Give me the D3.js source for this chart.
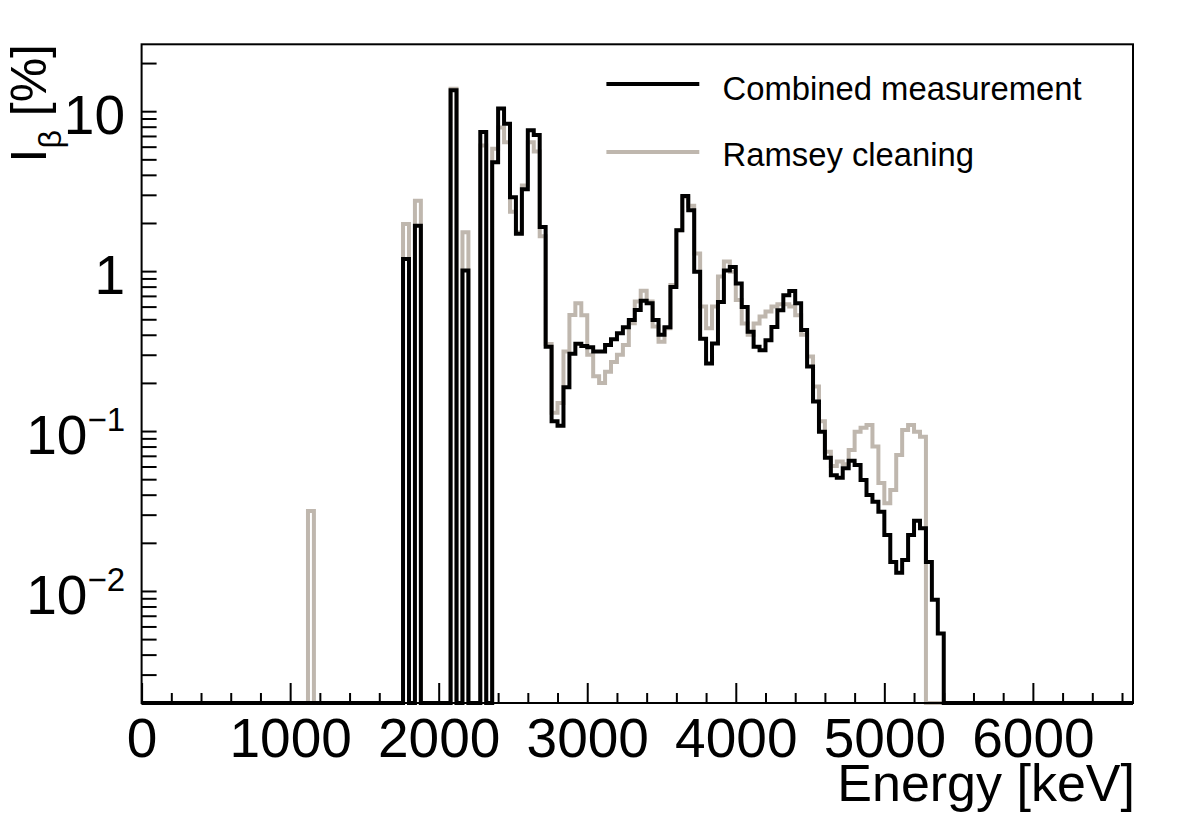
<!DOCTYPE html>
<html>
<head>
<meta charset="utf-8">
<script src="https://cdn.jsdelivr.net/npm/d3@7"></script>
<style>
body { margin: 0; background: #fff; }
svg { display: block; font-family: "Liberation Sans", Arial, Helvetica, sans-serif; }
</style>
</head>
<body>
<script>
// Beta feeding intensity per 40 keV bin (percent)
var binWidth = 40;

var energyKeV = [
	1120, 1760, 1840, 2080, 2160, 2280,
	2360, 2400, 2440, 2480, 2520, 2560, 2600, 2640, 2680, 2720,
	2760, 2800, 2840, 2880, 2920, 2960, 3000, 3040, 3080, 3120,
	3160, 3200, 3240, 3280, 3320, 3360, 3400, 3440, 3480, 3520,
	3560, 3600, 3640, 3680, 3720, 3760, 3800, 3840, 3880, 3920,
	3960, 4000, 4040, 4080, 4120, 4160, 4200, 4240, 4280, 4320,
	4360, 4400, 4440, 4480, 4520, 4560, 4600, 4640, 4680, 4720,
	4760, 4800, 4840, 4880, 4920, 4960, 5000, 5040, 5080, 5120,
	5160, 5200, 5240, 5280, 5320, 5360
];

var combined = [
	0, 1.19, 1.92, 13.5, 1.01, 7.41,
	4.8, 10.4, 8.36, 2.9, 1.71, 3.25, 7.6, 7.1, 1.89, 0.337,
	0.115, 0.108, 0.188, 0.304, 0.352, 0.34, 0.334, 0.314, 0.314, 0.345,
	0.375, 0.409, 0.446, 0.495, 0.572, 0.653, 0.629, 0.495, 0.40, 0.445,
	0.796, 1.80, 2.95, 2.40, 0.99, 0.378, 0.264, 0.353, 0.641, 1.01,
	1.06, 0.836, 0.597, 0.417, 0.336, 0.320, 0.370, 0.448, 0.569, 0.706,
	0.752, 0.63, 0.428, 0.253, 0.153, 0.099, 0.068, 0.053, 0.051, 0.0585,
	0.0653, 0.0614, 0.0494, 0.0398, 0.0361, 0.0313, 0.0224, 0.0152, 0.0130, 0.0156,
	0.0224, 0.0275, 0.0247, 0.0152, 0.0088, 0.00543
];

var ramsey = [
	0.0316, 1.97, 2.75, 13.8, 1.75, 6.1,
	5.83, 7.9, 6.4, 2.35, 1.75, 3.43, 6.4, 5.6, 1.65, 0.35,
	0.13, 0.15, 0.314, 0.532, 0.63, 0.53, 0.30, 0.22, 0.20, 0.235,
	0.27, 0.30, 0.345, 0.472, 0.645, 0.755, 0.645, 0.45, 0.362, 0.44,
	0.82, 1.8, 2.9, 2.56, 1.29, 0.60, 0.44, 0.60, 0.925, 1.15,
	0.99, 0.66, 0.47, 0.40, 0.47, 0.52, 0.56, 0.60, 0.62, 0.62,
	0.60, 0.53, 0.40, 0.292, 0.19, 0.115, 0.0743, 0.0605, 0.0644, 0.062,
	0.076, 0.099, 0.105, 0.109, 0.080, 0.0474, 0.0353, 0.0428, 0.0708, 0.1016,
	0.109, 0.099, 0.092, 0, 0, 0
];

var series = [
	{name: "Ramsey cleaning", values: ramsey, color: "#bfb7ae"},
	{name: "Combined measurement", values: combined, color: "#000000"}
];

var xMajorTicks = [0, 1000, 2000, 3000, 4000, 5000, 6000];
var yDecades = [0.01, 0.1, 1, 10];
var yDecadeLabels = [["10", "\u22122"], ["10", "\u22121"], ["1", ""], ["10", ""]];

var width = 1182, height = 819;
var frame = {left: 141.6, right: 1133, top: 44.3, bottom: 703};
var xMax = 6674;

var svg = d3.select("body").append("svg")
	.attr("width", width)
	.attr("height", height);

var x = d3.scaleLinear().domain([0, xMax]).range([frame.left, frame.right]);
var y = d3.scaleLog().domain([0.001993, 26.2]).range([frame.bottom, frame.top]);

/*
 * Histograms: every 40 keV bin across the axis, empty bins sit on the frame bottom
 */
function histPoints(values){
	var lookup = {};
	energyKeV.forEach(function(e, i){ lookup[e] = values[i]; });
	var pts = [];
	d3.range(0, xMax, binWidth).forEach(function(lo){
		var v = lookup[lo] || 0;
		pts.push({e: lo, v: v});
	});
	pts.push({e: xMax, v: pts[pts.length - 1].v});
	return pts;
}

var line = d3.line()
	.x(function(d){ return x(d.e); })
	.y(function(d){ return d.v > 0 ? y(d.v) : frame.bottom; })
	.curve(d3.curveStepAfter);

series.forEach(function(s){
	svg.append("path")
		.datum(histPoints(s.values))
		.attr("d", line)
		.attr("fill", "none")
		.attr("stroke", s.color)
		.attr("stroke-width", 4)
		.attr("stroke-linejoin", "miter");
});

// frame
svg.append("rect")
	.attr("x", frame.left).attr("y", frame.top)
	.attr("width", frame.right - frame.left)
	.attr("height", frame.bottom - frame.top)
	.attr("fill", "none")
	.attr("stroke", "#000")
	.attr("stroke-width", 2);

/*
 * Axes, ROOT style: ticks point into the frame
 */
var xMinorTicks = d3.range(0, xMax, 200).filter(function(v){ return v % 1000 !== 0; });

var xMinor = svg.append("g")
	.attr("transform", "translate(0," + frame.bottom + ")")
	.call(d3.axisBottom(x).tickValues(xMinorTicks).tickSize(-10).tickFormat(""));

var xMajor = svg.append("g")
	.attr("transform", "translate(0," + frame.bottom + ")")
	.call(d3.axisBottom(x).tickValues(xMajorTicks).tickSize(-20).tickPadding(15).tickFormat(d3.format("d")));

xMajor.selectAll("text")
	.attr("font-size", 55)
	.attr("font-family", "'Liberation Sans', Arial, Helvetica, sans-serif")
	.attr("fill", "#000");

var yTicks = [];
[0.001, 0.01, 0.1, 1, 10].forEach(function(dec){
	for(var m = 1; m < 10; m++){
		var v = dec * m;
		if(v >= 0.002 && v <= 26) yTicks.push(v);
	}
});

var yAxis = svg.append("g")
	.attr("transform", "translate(" + frame.left + ",0)")
	.call(d3.axisLeft(y).tickValues(yTicks).tickSize(-15).tickFormat(""));

[xMinor, xMajor, yAxis].forEach(function(g){
	g.select(".domain").remove();
	g.selectAll("line").attr("stroke", "#000").attr("stroke-width", 2);
});

// decade labels with superscript exponents
yDecades.forEach(function(v, i){
	var t = svg.append("text")
		.attr("x", 125)
		.attr("y", y(v) + 23)
		.attr("text-anchor", "end")
		.attr("font-size", 55)
		.text(yDecadeLabels[i][0]);
	if(yDecadeLabels[i][1]){
		t.append("tspan")
			.attr("font-size", 33)
			.attr("dy", -23)
			.text(yDecadeLabels[i][1]);
	}
});

// axis titles
svg.append("text")
	.attr("x", 1135)
	.attr("y", 801)
	.attr("text-anchor", "end")
	.attr("font-size", 52)
	.text("Energy [keV]");

var yTitle = svg.append("text")
	.attr("transform", "translate(46,44) rotate(-90)")
	.attr("text-anchor", "end")
	.attr("font-size", 50);
yTitle.append("tspan").text("I");
yTitle.append("tspan").attr("font-size", 32).attr("dy", 15).text("\u03b2");
yTitle.append("tspan").attr("dy", -15).text(" [%]");

/*
 * Legend
 */
var legendRows = [
	{name: "Combined measurement", color: "#000000", y: 84, base: 100},
	{name: "Ramsey cleaning", color: "#bfb7ae", y: 152, base: 166}
];

legendRows.forEach(function(r){
	svg.append("line")
		.attr("x1", 606.4).attr("x2", 699.3)
		.attr("y1", r.y).attr("y2", r.y)
		.attr("stroke", r.color)
		.attr("stroke-width", 4);
	svg.append("text")
		.attr("x", 722.5)
		.attr("y", r.base)
		.attr("font-size", 32.8)
		.text(r.name);
});
</script>
</body>
</html>
